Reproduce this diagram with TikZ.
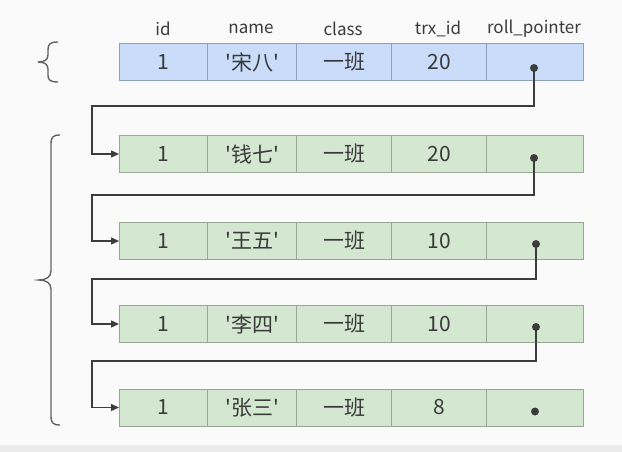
\documentclass[tikz,border=0pt]{standalone}
\usepackage{fontspec}
\setmainfont{Noto Sans CJK SC}
\newfontfamily\cellfont{Noto Sans CJK SC}
\usetikzlibrary{arrows.meta}
\definecolor{bg}{HTML}{FAFAFA}
\definecolor{strip}{HTML}{EBEBEB}
\definecolor{bluefill}{HTML}{C9DCFA}
\definecolor{blueline}{HTML}{8E9FBD}
\definecolor{greenfill}{HTML}{D4E7D1}
\definecolor{greenline}{HTML}{98A894}
\definecolor{txt}{HTML}{3A3A3A}
\definecolor{wire}{HTML}{3C3C3C}
\begin{document}
\begin{tikzpicture}[x=1pt,y=-1pt,
  cell/.style={draw, line width=1pt, minimum height=37pt, inner sep=0pt, anchor=west,
    font=\cellfont\fontsize{21}{21}\selectfont, text=txt},
  hdr/.style={font=\cellfont\fontsize{17}{17}\selectfont, text=txt, inner sep=0pt},
  bluecell/.style={cell, fill=bluefill, draw=blueline},
  greencell/.style={cell, fill=greenfill, draw=greenline},
  dot/.style={circle, fill=wire, inner sep=0pt, minimum size=8pt},
  conn/.style={draw=wire, line width=1.3pt, -{Triangle[length=8pt,width=7pt]}},
  brace/.style={draw=wire!80, line width=1.4pt}]
\useasboundingbox (0,0) rectangle (622,452);
\fill[bg] (0,0) rectangle (622,452);
\fill[strip] (0,445) rectangle (622,452);

% headers
\node[hdr] (h1) at (163,29) {id};
\node[hdr] (h2) at (251,29) {name};
\node[hdr] (h3) at (343,29) {class};
\node[hdr] (h4) at (438,29) {trx\_id};
\node[hdr] (h5) at (534,29) {roll\_pointer};

% rows: name, y-centre, style, values
\foreach \r/\y/\s/\n/\t in {0/62/bluecell/宋八/20, 1/154/greencell/钱七/20, 2/241/greencell/王五/10, 3/324/greencell/李四/10, 4/407.5/greencell/张三/8}{
  \node[\s, minimum width=88pt] (r\r c1) at (119,\y) {1};
  \node[\s, minimum width=89pt] (r\r c2) at (207,\y) {'\n'};
  \node[\s, minimum width=95pt] (r\r c3) at (296,\y) {一班};
  \node[\s, minimum width=95pt] (r\r c4) at (391,\y) {\t};
  \node[\s, minimum width=97pt] (r\r c5) at (486,\y) {};
}

% pointer dots
\node[dot] (d0) at ([xshift=-1pt,yshift=-6pt]r0c5.center) {};
\node[dot] (d1) at ([xshift=-1pt,yshift=-4pt]r1c5.center) {};
\node[dot] (d2) at ([xshift=1pt,yshift=-3pt]r2c5.center) {};
\node[dot] (d3) at ([xshift=1pt,yshift=-3pt]r3c5.center) {};
\node[dot] (d4) at ([xshift=0pt,yshift=-4pt]r4c5.center) {};

% bend points
\coordinate (k0) at (92,106);
\coordinate (k1) at (92,195);
\coordinate (k2) at (92,279);
\coordinate (k3) at (92,361);

\draw[conn] (d0.center) |- (k0) |- (r1c1.west);
\draw[conn] (d1.center) |- (k1) |- (r2c1.west);
\draw[conn] (d2.center) |- (k2) |- (r3c1.west);
\draw[conn] (d3.center) |- (k3) |- (r4c1.west);

% braces
\draw[brace] (58,42) .. controls (50,42) and (48,44) .. (48,50) -- (48,55)
  .. controls (48,60) and (44,62) .. (38,62) .. controls (44,62) and (48,64) .. (48,69)
  -- (48,75) .. controls (48,80) and (50,82) .. (58,82);
\draw[brace] (60,135) .. controls (53,135) and (51,137) .. (51,144) -- (51,271)
  .. controls (51,277) and (46,280) .. (39,280) .. controls (46,280) and (51,283) .. (51,289)
  -- (51,416) .. controls (51,423) and (53,425) .. (60,425);
\end{tikzpicture}
\end{document}
